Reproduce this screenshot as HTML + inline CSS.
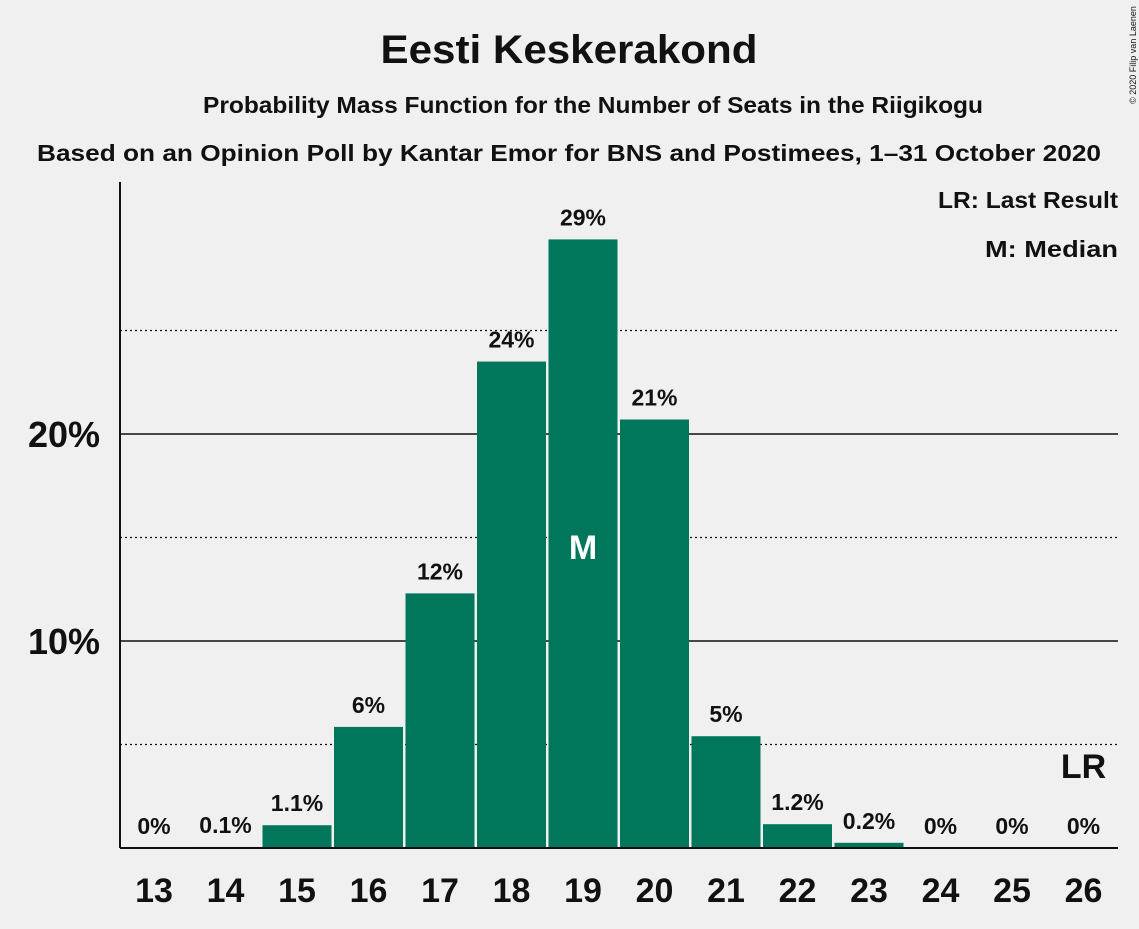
<!DOCTYPE html>
<html><head><meta charset="utf-8"><style>
body{margin:0;background:#f0f0f0;}
svg text{font-family:"Liberation Sans",sans-serif;font-weight:bold;fill:#111;}
</style></head><body>
<svg id="c" width="1139" height="924" xmlns="http://www.w3.org/2000/svg">
<rect width="1139" height="924" fill="#f0f0f0"/>
<text x="569" y="63" text-anchor="middle" font-size="40" textLength="377" lengthAdjust="spacingAndGlyphs">Eesti Keskerakond</text>
<text x="593" y="113" text-anchor="middle" font-size="23" textLength="780" lengthAdjust="spacingAndGlyphs">Probability Mass Function for the Number of Seats in the Riigikogu</text>
<text x="569" y="161" text-anchor="middle" font-size="23" textLength="1064" lengthAdjust="spacingAndGlyphs">Based on an Opinion Poll by Kantar Emor for BNS and Postimees, 1–31 October 2020</text>
<text x="1118" y="208" text-anchor="end" font-size="23" textLength="180" lengthAdjust="spacingAndGlyphs">LR: Last Result</text>
<text x="1118" y="257" text-anchor="end" font-size="23" textLength="133" lengthAdjust="spacingAndGlyphs">M: Median</text>
<text transform="translate(1136,55) rotate(-90)" text-anchor="middle" font-size="9" style="font-weight:normal">© 2020 Filip van Laenen</text>
<g id="grid"></g>
<g id="bars"></g>
<g id="labels"></g>
<line x1="120" y1="182" x2="120" y2="848" stroke="#111" stroke-width="2"/>
<line x1="120" y1="848" x2="1118" y2="848" stroke="#111" stroke-width="2"/>
</svg>
<script>
const categories=[13,14,15,16,17,18,19,20,21,22,23,24,25,26];
const values=[0,0.05,1.1,5.85,12.3,23.5,29.4,20.7,5.4,1.15,0.25,0,0,0];
const valueLabels=["0%","0.1%","1.1%","6%","12%","24%","29%","21%","5%","1.2%","0.2%","0%","0%","0%"];
const yTicks=[10,20];
const yTickLabels=["10%","20%"];
const dottedTicks=[5,15,25];
const medianSeat=19;
const lastResultSeat=26;
const NS="http://www.w3.org/2000/svg";
const y0=848,pxPer=20.7,x0=154,step=71.5,bw=69;
const y=v=>y0-v*pxPer;
const x=i=>x0+i*step;
function mk(t,a,p){const e=document.createElementNS(NS,t);for(const k in a)e.setAttribute(k,a[k]);p.appendChild(e);return e;}
const g=document.getElementById('grid'),b=document.getElementById('bars'),l=document.getElementById('labels');
dottedTicks.forEach(v=>{const e=mk('line',{x1:120,x2:1118,y1:y(v),y2:y(v),stroke:'#111','stroke-width':1.2,'stroke-dasharray':'2,3'},g);

});
yTicks.forEach((v,i)=>{const e=mk('line',{x1:120,x2:1118,y1:y(v),y2:y(v),stroke:'#111','stroke-width':1.5},g);


const t=mk('text',{x:100,y:y(v)+13,'text-anchor':'end','font-size':36},g);t.textContent=yTickLabels[i];

});
categories.forEach((c,i)=>{
 const v=values[i];
 if(v>0){const r=mk('rect',{x:x(i)-bw/2,y:y(v),width:bw,height:v*pxPer,fill:'#00775a'},b);
 
 }
 const t=mk('text',{x:x(i),y:y(v)-14,'text-anchor':'middle','font-size':23},l);t.textContent=valueLabels[i];
 
 
 const xt=mk('text',{x:x(i),y:902,'text-anchor':'middle','font-size':34},l);xt.textContent=c;
 
 
 if(c===medianSeat){const m=mk('text',{x:x(i),y:559,'text-anchor':'middle','font-size':34,style:'fill:#fff'},l);m.textContent='M';
 
 }
 if(c===lastResultSeat){const m=mk('text',{x:x(i),y:778,'text-anchor':'middle','font-size':34},l);m.textContent='LR';
 
 }
});
</script>
</body></html>
